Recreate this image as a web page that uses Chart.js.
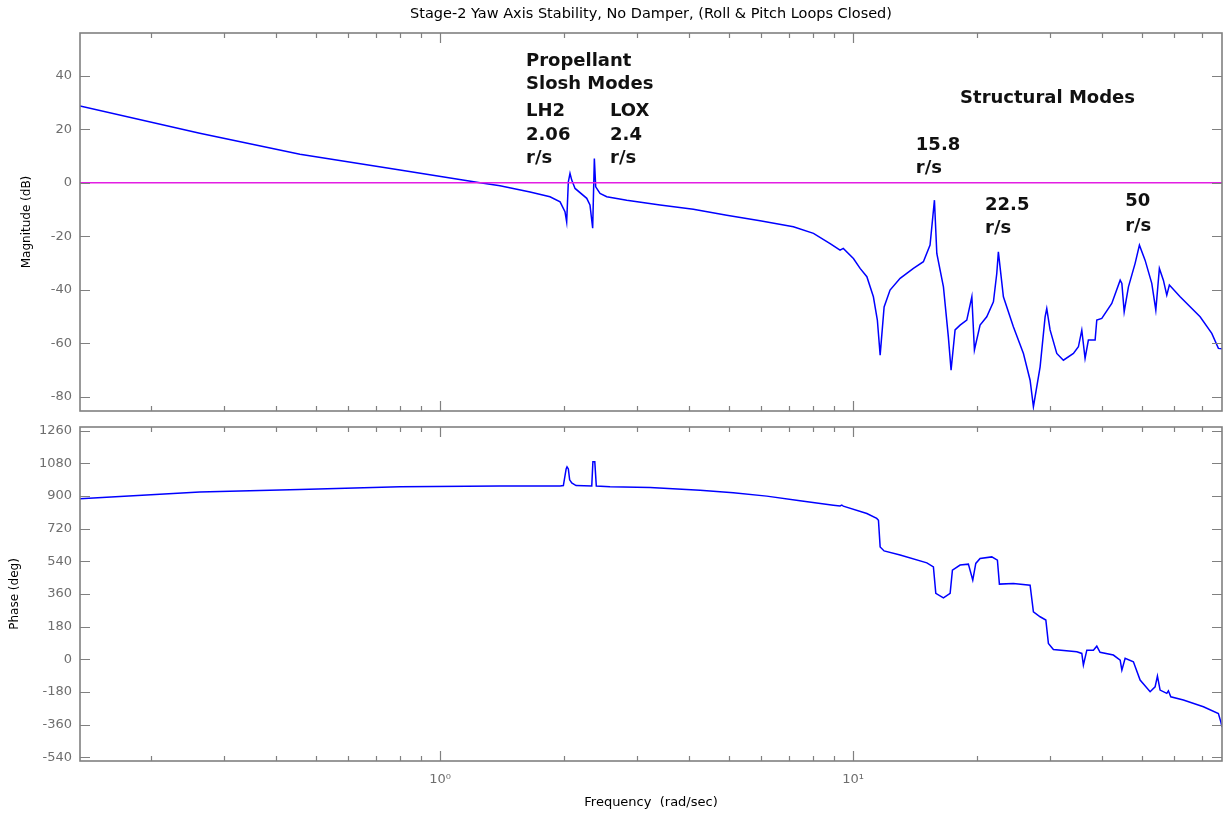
<!DOCTYPE html>
<html>
<head>
<meta charset="utf-8">
<script src="https://cdn.jsdelivr.net/npm/chart.js@4.4.1/dist/chart.umd.min.js"></script>
<style>
  body { margin: 0; background: #fff; }
  #wrap { position: relative; width: 1225px; height: 815px; }
  canvas { position: absolute; left: 0; }
  #magCanvas { top: 0; }
  #phaseCanvas { top: 412px; }
</style>
</head>
<body>
<div id="wrap">
  <canvas id="magCanvas" width="1225" height="425"></canvas>
  <canvas id="phaseCanvas" width="1225" height="403"></canvas>
</div>
<script>
// Bode data (frequency in rad/sec)
const magFreq = [0.1344, 0.262, 0.458, 0.80, 1.25, 1.397, 1.652, 1.846, 1.953, 2.007, 2.026, 2.045, 2.064, 2.084,
  2.123, 2.266, 2.307, 2.342, 2.364, 2.382, 2.44, 2.533, 2.832, 3.41, 4.105, 4.945, 5.955, 7.17, 8.02, 8.80,
  9.30, 9.47, 10.02, 10.40, 10.80, 11.20, 11.45, 11.63, 11.89, 12.29, 13.0, 14.0, 14.8, 15.36, 15.74, 15.95,
  16.55, 17.01, 17.27, 17.66, 18.16, 18.85, 19.39, 19.67, 20.30, 21.07, 21.87, 22.28, 22.48, 23.12, 24.44,
  25.85, 26.83, 27.33, 28.37, 29.17, 29.44, 29.99, 31.13, 32.30, 34.16, 35.12, 35.79, 36.45, 37.13, 38.55,
  38.91, 40.01, 42.30, 44.33, 44.75, 45.33, 46.42, 48.18, 49.35, 50.93, 52.87, 54.07, 55.16, 56.40, 57.48,
  58.32, 61.92, 69.22, 73.87, 76.64, 78.2];
const magDb = [28.7, 18.5, 10.7, 4.75, 0, -1.1, -3.4, -5.2, -7.1, -10.8, -14.6, 0.4, 3.5, 1.0,
  -2.1, -5.8, -8.3, -17, 9.1, -1.5, -4.0, -5.2, -6.5, -8.3, -9.9, -12.1, -14.2, -16.4, -18.9, -22.7,
  -25.2, -24.5, -28.3, -32, -35.1, -42.6, -51.3, -64.4, -46.4, -40.1, -35.7, -32, -29.5, -23.3, -6.5, -26.4,
  -38.9, -57.6, -70, -55, -53.2, -51.3, -42.6, -62.5, -53.2, -50.1, -44.5, -33.9, -25.8, -42.6, -53.8,
  -63.8, -73.8, -83.7, -68.8, -50.1, -47, -55, -63.8, -66.3, -63.8, -61.3, -55.1, -65.6, -58.8, -58.8,
  -51.3, -50.7, -45.1, -36.4, -37.6, -48.2, -38.9, -30.1, -23.3, -28.9, -37.6, -47.6, -32, -36.4, -42,
  -38.2, -42.6, -50.1, -56.3, -61.9, -62];

const phaseFreq = [0.1344, 0.262, 0.458, 0.80, 1.397, 1.953, 1.989, 2.02, 2.03, 2.045, 2.06, 2.084, 2.135,
  2.33, 2.345, 2.37, 2.39, 2.58, 3.225, 4.262, 5.13, 6.18, 7.44, 8.96, 9.30, 9.39, 9.47, 10.80, 11.41, 11.52,
  11.63, 11.89, 13.0, 15.09, 15.65, 15.86, 16.55, 17.18, 17.40, 18.16, 19.02, 19.49, 19.82, 20.30, 21.67,
  22.36, 22.61, 24.44, 26.83, 27.33, 28.37, 29.29, 29.71, 30.55, 34.81, 35.79, 36.11, 36.81, 38.18, 38.91,
  39.63, 42.68, 44.33, 44.75, 45.57, 47.72, 49.54, 52.38, 53.86, 54.56, 55.38, 57.48, 58.0, 58.78, 63.06,
  70.5, 76.64, 77.69, 78.2];
const phaseDeg = [885, 923, 937, 951, 956, 956, 958, 1050, 1061, 1050, 990, 973, 958,
  956, 1089, 1089, 956, 951, 948, 933, 918, 900, 874, 850, 846, 851, 845, 804, 777, 767,
  620, 598, 575, 532, 510, 364, 339, 364, 492, 520, 525, 437, 529, 556, 565,
  547, 415, 419, 409, 262, 235, 217, 88, 55, 42, 33, -31, 51, 51, 73,
  39, 24, -4, -59, 6, -13, -114, -178, -151, -92, -169, -187, -173, -206, -224,
  -261, -298, -344, -373];

const freqRange = [0.1344, 78.2];
const magRange = [-85.3, 56];
const phaseRange = [-560, 1281];
const freqTicks = [0.2, 0.3, 0.4, 0.5, 0.6, 0.7, 0.8, 0.9, 1, 2, 3, 4, 5, 6, 7, 8, 9, 10, 20, 30, 40, 50, 60, 70];
const freqLabels = { 1: '10\u2070', 10: '10\u00b9' };
const magTicks = [-80, -60, -40, -20, 0, 20, 40];
const phaseTicks = [-540, -360, -180, 0, 180, 360, 540, 720, 900, 1080, 1260];

// text labels on the magnitude plot, anchored in (rad/sec, dB)
const magNotes = [
  { text: 'Propellant', f: 1.615, db: 45.5 },
  { text: 'Slosh Modes', f: 1.615, db: 36.9 },
  { text: 'LH2', f: 1.615, db: 26.8 },
  { text: '2.06', f: 1.615, db: 17.8 },
  { text: 'r/s', f: 1.615, db: 9.2 },
  { text: 'LOX', f: 2.58, db: 26.8 },
  { text: '2.4', f: 2.58, db: 17.8 },
  { text: 'r/s', f: 2.58, db: 9.2 },
  { text: 'Structural Modes', f: 18.16, db: 31.7 },
  { text: '15.8', f: 14.19, db: 14.1 },
  { text: 'r/s', f: 14.19, db: 5.5 },
  { text: '22.5', f: 20.87, db: -8.3 },
  { text: 'r/s', f: 20.87, db: -17.0 },
  { text: '50', f: 45.57, db: -7.1 },
  { text: 'r/s', f: 45.57, db: -16.4 }
];

const BLUE = '#0000ff';
const TICK_GREY = '#6e6e6e';
const FRAME_GREY = '#808080';

function toPoints(xs, ys) {
  return xs.map((x, i) => ({ x: x, y: ys[i] }));
}

// box, inward tick marks on all four sides, and the text notes
const framePlugin = {
  id: 'frame',
  afterDatasetsDraw(chart, args, opts) {
    const { ctx, chartArea: a } = chart;
    const x = chart.scales.x, y = chart.scales.y;
    ctx.save();
    ctx.strokeStyle = FRAME_GREY;
    ctx.lineWidth = 1.2;
    ctx.beginPath();
    x.ticks.forEach(t => {
      const px = Math.round(x.getPixelForValue(t.value)) + 0.5;
      const len = Number.isInteger(Math.log10(t.value)) ? 10 : 5;
      ctx.moveTo(px, a.top); ctx.lineTo(px, a.top + len);
      ctx.moveTo(px, a.bottom); ctx.lineTo(px, a.bottom - len);
    });
    y.ticks.forEach(t => {
      const py = Math.round(y.getPixelForValue(t.value)) + 0.5;
      ctx.moveTo(a.left, py); ctx.lineTo(a.left + 10, py);
      ctx.moveTo(a.right, py); ctx.lineTo(a.right - 10, py);
    });
    ctx.stroke();
    ctx.lineWidth = 1.6;
    ctx.strokeRect(a.left, a.top, a.right - a.left, a.bottom - a.top);

    if (opts.notes) {
      ctx.fillStyle = '#111';
      ctx.font = 'bold 18px "DejaVu Sans"';
      ctx.textAlign = 'left';
      ctx.textBaseline = 'middle';
      opts.notes.forEach(n => {
        ctx.fillText(n.text, x.getPixelForValue(n.f), y.getPixelForValue(n.db));
      });
    }
    ctx.restore();
  }
};

function xScale(showLabels, height) {
  return {
    type: 'logarithmic',
    min: freqRange[0],
    max: freqRange[1],
    grid: { display: false, drawTicks: false },
    border: { display: false },
    afterBuildTicks: s => { s.ticks = freqTicks.map(v => ({ value: v })); },
    afterFit: s => { s.height = height; s.paddingLeft = 0; s.paddingRight = 0; },
    ticks: {
      display: showLabels,
      autoSkip: false,
      maxRotation: 0,
      padding: 11,
      color: TICK_GREY,
      font: { family: 'DejaVu Sans', size: 13 },
      callback: v => freqLabels[v] || ''
    },
    title: {
      display: showLabels,
      text: 'Frequency  (rad/sec)',
      color: '#000',
      font: { family: 'DejaVu Sans', size: 13 },
      padding: { top: 0, bottom: 5 }
    }
  };
}

function yScale(range, ticks, label, titlePad) {
  return {
    min: range[0],
    max: range[1],
    grid: { display: false, drawTicks: false },
    border: { display: false },
    afterBuildTicks: s => { s.ticks = ticks.map(v => ({ value: v })); },
    afterFit: s => { s.width = 80; s.paddingTop = 0; s.paddingBottom = 0; },
    ticks: {
      padding: 8,
      color: TICK_GREY,
      font: { family: 'DejaVu Sans', size: 13 },
      callback: v => String(v)
    },
    title: {
      display: true,
      text: label,
      color: '#000',
      font: { family: 'DejaVu Sans', size: 12 },
      padding: { top: titlePad, bottom: 0 }
    }
  };
}

Chart.defaults.animation = false;

new Chart(document.getElementById('magCanvas'), {
  type: 'line',
  data: {
    datasets: [
      {
        data: [{ x: freqRange[0], y: 0 }, { x: freqRange[1], y: 0 }],
        borderColor: '#e31ee3',
        borderWidth: 1.5,
        pointRadius: 0
      },
      {
        data: toPoints(magFreq, magDb),
        borderColor: BLUE,
        borderWidth: 1.5,
        pointRadius: 0,
        tension: 0
      }
    ]
  },
  options: {
    responsive: false,
    devicePixelRatio: 1,
    layout: { padding: { left: 0, right: 3, top: 0, bottom: 0 } },
    scales: {
      x: xScale(false, 14),
      y: yScale(magRange, magTicks, 'Magnitude (dB)', 20)
    },
    plugins: {
      legend: { display: false },
      tooltip: { enabled: false },
      title: {
        display: true,
        fullSize: false,
        text: 'Stage-2 Yaw Axis Stability, No Damper, (Roll & Pitch Loops Closed)',
        color: '#000',
        font: { family: 'DejaVu Sans', size: 14.5, weight: 'normal' },
        padding: { top: 6, bottom: 9.6 }
      },
      frame: { notes: magNotes }
    }
  },
  plugins: [framePlugin]
});

new Chart(document.getElementById('phaseCanvas'), {
  type: 'line',
  data: {
    datasets: [{
      data: toPoints(phaseFreq, phaseDeg),
      borderColor: BLUE,
      borderWidth: 1.5,
      pointRadius: 0,
      tension: 0
    }]
  },
  options: {
    responsive: false,
    devicePixelRatio: 1,
    layout: { padding: { left: 0, right: 3, top: 15, bottom: 0 } },
    scales: {
      x: xScale(true, 54),
      y: yScale(phaseRange, phaseTicks, 'Phase (deg)', 8)
    },
    plugins: {
      legend: { display: false },
      tooltip: { enabled: false },
      frame: {}
    }
  },
  plugins: [framePlugin]
});
</script>
</body>
</html>
